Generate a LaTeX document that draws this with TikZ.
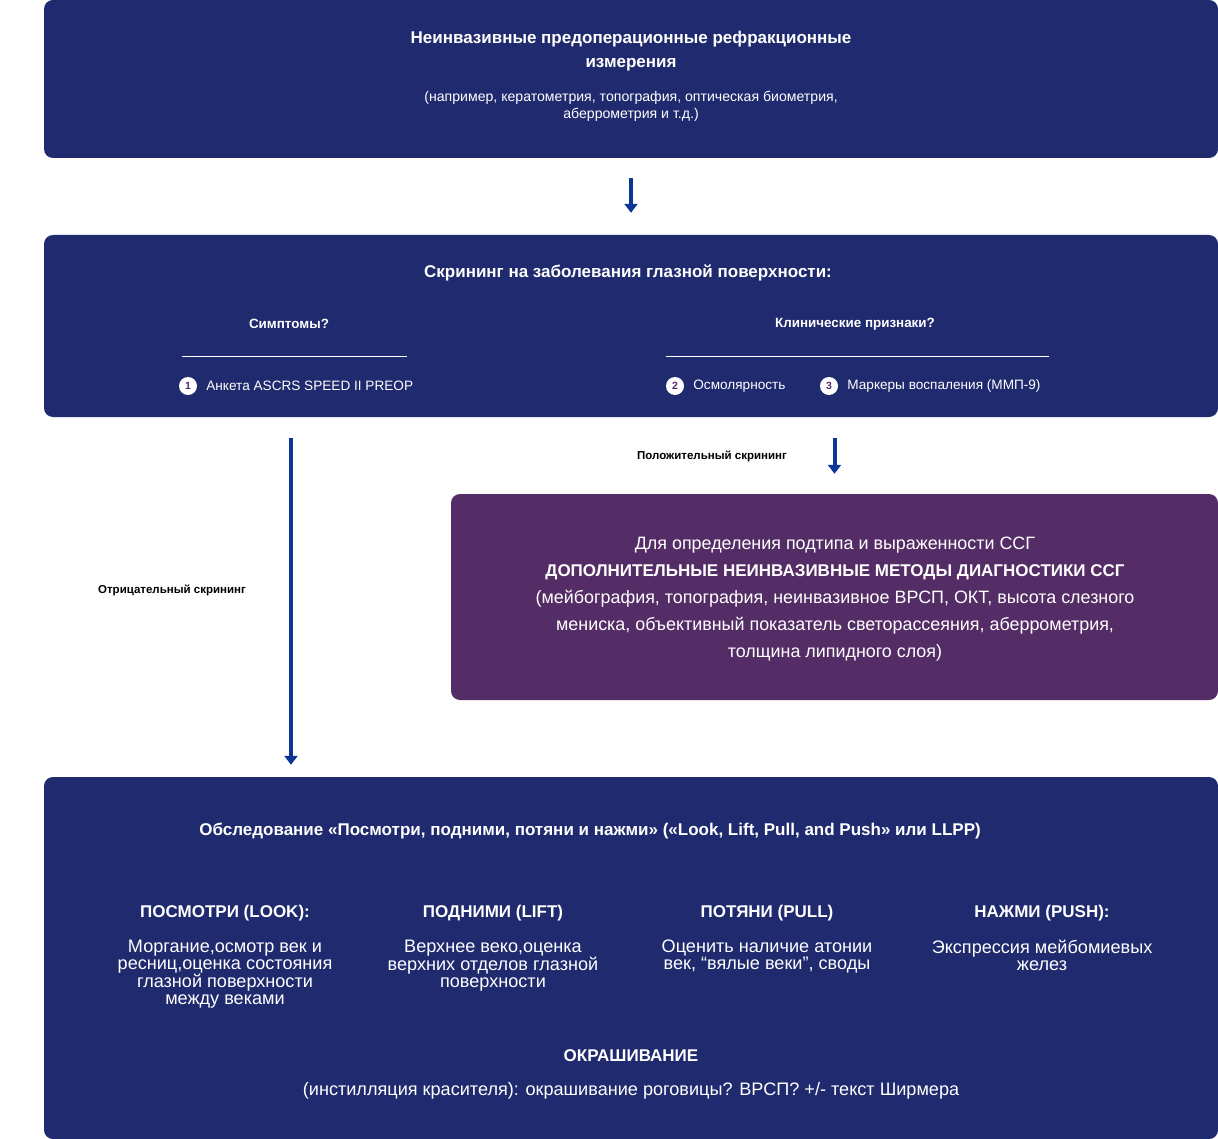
\documentclass[tikz,border=0pt]{standalone}
\usepackage{fontspec}
\setmainfont{Liberation Sans}
\definecolor{eyeblue}{RGB}{32, 42, 110}
\definecolor{eyeviolet}{RGB}{85, 45, 102}
\definecolor{arrowblue}{RGB}{12, 54, 150}
\usetikzlibrary{arrows.meta, positioning, calc}

\begin{document}
\begin{tikzpicture}[
        x=1pt, y=-1pt,
        box/.style={rectangle, fill=eyeblue, rounded corners=9pt, inner sep=0pt},
        headtxt/.style={text=white, align=center, inner sep=0pt, font=\bfseries\fontsize{17}{24}\selectfont},
        notetxt/.style={text=white, align=center, inner sep=0pt, font=\fontsize{14.1}{17}\selectfont},
        subhead/.style={text=white, inner sep=0pt, font=\bfseries\fontsize{13.4}{16}\selectfont},
        itemtxt/.style={text=white, inner sep=0pt, font=\fontsize{13.6}{16}\selectfont},
        numdot/.style={circle, fill=white, text=eyeviolet, inner sep=0pt, minimum size=18pt, font=\bfseries\fontsize{10.5}{12}\selectfont},
        flowlabel/.style={text=black, inner sep=0pt, font=\bfseries\fontsize{11.5}{13}\selectfont},
        colhead/.style={text=white, inner sep=0pt, font=\bfseries\fontsize{17}{20}\selectfont},
        colbody/.style={text=white, align=center, inner sep=0pt, font=\fontsize{18.1}{17}\selectfont},
        rule/.style={white, line width=1pt},
        arrow/.style={-{Triangle[length=9pt, width=13pt]}, arrowblue, line width=4pt}
    ]
        \useasboundingbox (0,0) rectangle (1218,1139);

        % measurements
        \node[box, minimum width=1174pt, minimum height=158pt] (measure) at (631,79) {};
        \node[headtxt] (measuretitle) at (631,51) {Неинвазивные предоперационные рефракционные\\измерения};
        \node[notetxt] (measurenote) at (631,106.5) {(например, кератометрия, топография, оптическая биометрия,\\аберрометрия и т.д.)};

        % screening
        \node[box, minimum width=1174pt, minimum height=182pt] (screen) at (631,326) {};
        \node[headtxt] (screentitle) at (628,273) {Скрининг на заболевания глазной поверхности:};
        \node[subhead] (symptoms) at (289,324) {Симптомы?};
        \node[subhead] (signs) at (855,324) {Клинические признаки?};
        \draw[rule] (182,357) -- (407,357);
        \draw[rule] (666,357) -- (1049,357);
        \node[numdot] (n1) at (188,386) {1};
        \node[itemtxt, right=9pt of n1] (speed) {Анкета ASCRS SPEED II PREOP};
        \node[numdot] (n2) at (675,386) {2};
        \node[itemtxt, right=9pt of n2] (osmo) {Осмолярность};
        \node[numdot] (n3) at (829,386) {3};
        \node[itemtxt, right=9pt of n3] (mmp) {Маркеры воспаления (ММП-9)};

        % positive screening
        \node[box, fill=eyeviolet, minimum width=767pt, minimum height=206pt] (subtype) at (834.5,597) {};
        \node[text=white, align=center, inner sep=0pt, font=\fontsize{17.9}{27}\selectfont] (subtypetxt) at (835,599) {Для определения подтипа и выраженности ССГ\\{\bfseries\fontsize{17}{27}\selectfont ДОПОЛНИТЕЛЬНЫЕ НЕИНВАЗИВНЫЕ МЕТОДЫ ДИАГНОСТИКИ ССГ}\\(мейбография, топография, неинвазивное ВРСП, ОКТ, высота слезного\\мениска, объективный показатель светорассеяния, аберрометрия,\\толщина липидного слоя)};

        % LLPP
        \node[box, minimum width=1174pt, minimum height=362pt] (llpp) at (631,958) {};
        \node[colhead] (llpptitle) at (590,831) {Обследование «Посмотри, подними, потяни и нажми» («Look, Lift, Pull, and Push» или LLPP)};
        \node[colhead] (look) at (225,913) {ПОСМОТРИ (LOOK):};
        \node[colbody, below=19pt of look] (lookbody) {Моргание,осмотр век и\\ресниц,оценка состояния\\глазной поверхности\\между веками};
        \node[colhead] (lift) at (493,913) {ПОДНИМИ (LIFT)};
        \node[colbody, below=19pt of lift] (liftbody) {Верхнее веко,оценка\\верхних отделов глазной\\поверхности};
        \node[colhead] (pull) at (767,913) {ПОТЯНИ (PULL)};
        \node[colbody, below=19pt of pull] (pullbody) {Оценить наличие атонии\\век, “вялые веки”, своды};
        \node[colhead] (push) at (1042,913) {НАЖМИ (PUSH):};
        \node[colbody, below=19pt of push] (pushbody) {Экспрессия мейбомиевых\\желез};
        \node[colhead] (stain) at (631,1056) {ОКРАШИВАНИЕ};
        \node[colbody] (staintxt) at (631,1091) {(инстилляция красителя): окрашивание роговицы? ВРСП? +/- текст Ширмера};

        % arrows
        \coordinate (negx) at (291,0);
        \draw[arrow, shorten <=20pt, shorten >=22pt] (measure) -- (screen);
        \draw[arrow, shorten <=21pt, shorten >=20pt] (subtype |- screen.south) -- (subtype.north);
        \draw[arrow, shorten <=21pt, shorten >=12pt] (negx |- screen.south) -- (negx |- llpp.north);
        \node[flowlabel] (poslabel) at (712,456) {Положительный скрининг};
        \node[flowlabel] (neglabel) at (172,590) {Отрицательный скрининг};
    \end{tikzpicture}
\end{document}
